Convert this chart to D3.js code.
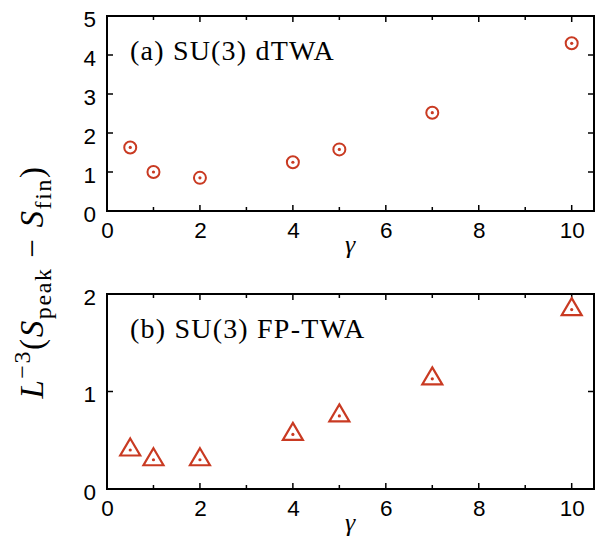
<!DOCTYPE html>
<meta charset="utf-8">
<style>
  body { margin: 0; background: #fff; }
  .tick text { font-family: "Liberation Sans", Arial, sans-serif; font-size: 22.5px; fill: #000; }
  .serif { font-family: "Liberation Serif", "DejaVu Serif", serif; }
</style>
<svg width="597" height="550"></svg>
<script src="https://d3js.org/d3.v7.min.js"></script>
<script>
  // gamma values, shared by both panels
  var gammas = [0.5, 1, 2, 4, 5, 7, 10]
  // (a) SU(3) dTWA
  var dtwa = [1.63, 1.0, 0.85, 1.25, 1.58, 2.52, 4.30]
  // (b) SU(3) FP-TWA
  var fptwa = [0.40, 0.30, 0.30, 0.56, 0.75, 1.13, 1.84]

  var xMajor = [0, 2, 4, 6, 8, 10]
  var xMinor = [1, 3, 5, 7, 9]

  var red = '#c93a22'
  var svg = d3.select('svg')

  var x = d3.scaleLinear().domain([0, 10.48]).range([107, 594])

  function panel(cfg) {
    var y = d3.scaleLinear().domain([0, cfg.ymax]).range([cfg.bottom, cfg.top])
    var g = svg.append('g')

    // frame
    g.append('rect')
      .attr('x', x.range()[0]).attr('y', cfg.top)
      .attr('width', x.range()[1] - x.range()[0])
      .attr('height', cfg.bottom - cfg.top)
      .attr('fill', 'none').attr('stroke', '#000').attr('stroke-width', 2)

    // inward ticks on all four sides
    var ticks = g.append('g').attr('stroke', '#000').attr('stroke-width', 1.5)
    xMajor.concat(xMinor).forEach(function (v) {
      var len = xMajor.indexOf(v) >= 0 ? 6 : 4
      ticks.append('line').attr('x1', x(v)).attr('x2', x(v))
        .attr('y1', cfg.bottom).attr('y2', cfg.bottom - len)
      ticks.append('line').attr('x1', x(v)).attr('x2', x(v))
        .attr('y1', cfg.top).attr('y2', cfg.top + len)
    })
    cfg.yTicks.forEach(function (v) {
      ticks.append('line').attr('y1', y(v)).attr('y2', y(v))
        .attr('x1', x.range()[0]).attr('x2', x.range()[0] + 6)
      ticks.append('line').attr('y1', y(v)).attr('y2', y(v))
        .attr('x1', x.range()[1]).attr('x2', x.range()[1] - 6)
    })

    // tick labels through axes (lines hidden, drawn above)
    var xa = g.append('g').attr('transform', 'translate(0,' + cfg.bottom + ')')
      .call(d3.axisBottom(x).tickValues(xMajor).tickSize(0).tickPadding(11).tickFormat(d3.format('d')))
    xa.select('.domain').remove()
    var ya = g.append('g').attr('transform', 'translate(' + x.range()[0] + ',3)')
      .call(d3.axisLeft(y).tickValues(cfg.yTicks).tickSize(0).tickPadding(11).tickFormat(d3.format('d')))
    ya.select('.domain').remove()

    // x label
    g.append('text').attr('class', 'serif')
      .attr('x', 350).attr('y', cfg.bottom + 42)
      .attr('text-anchor', 'middle').attr('font-size', 26).attr('font-style', 'italic')
      .text('γ')

    // panel title
    g.append('text').attr('class', 'serif')
      .attr('x', 130).attr('y', cfg.top + 44)
      .attr('font-size', 28).attr('letter-spacing', 1.2)
      .text(cfg.title)

    // markers
    var pts = g.append('g').selectAll('g')
      .data(gammas.map(function (d, i) { return [d, cfg.values[i]] }))
      .enter().append('g')
      .attr('transform', function (d) { return 'translate(' + x(d[0]) + ',' + y(d[1]) + ')' })
    if (cfg.marker === 'circle') {
      pts.append('circle').attr('r', 6).attr('fill', 'none')
        .attr('stroke', red).attr('stroke-width', 2)
    } else {
      pts.append('path').attr('d', 'M0,-11.5L10,5.5L-10,5.5Z').attr('fill', 'none')
        .attr('stroke', red).attr('stroke-width', 2.2)
    }
    pts.append('circle').attr('r', 1.6).attr('fill', red)
  }

  panel({ top: 16, bottom: 211, ymax: 5, yTicks: [0, 1, 2, 3, 4, 5],
    values: dtwa, marker: 'circle', title: '(a) SU(3) dTWA' })
  panel({ top: 294, bottom: 489, ymax: 2, yTicks: [0, 1, 2],
    values: fptwa, marker: 'triangle', title: '(b) SU(3) FP-TWA' })

  // shared y label
  var yl = svg.append('text').attr('class', 'serif')
    .attr('transform', 'translate(43,282) rotate(-90)')
    .attr('text-anchor', 'middle').attr('font-size', 33).attr('letter-spacing', 1.6)
  yl.append('tspan').attr('font-style', 'italic').text('L')
  yl.append('tspan').attr('dy', -13).attr('font-size', 24).text('−3')
  yl.append('tspan').attr('dy', 13).text('(')
  yl.append('tspan').attr('font-style', 'italic').text('S')
  yl.append('tspan').attr('dy', 8).attr('font-size', 24).text('peak')
  yl.append('tspan').attr('dy', -8).text('  −  ')
  yl.append('tspan').attr('font-style', 'italic').text('S')
  yl.append('tspan').attr('dy', 8).attr('font-size', 24).text('fin')
  yl.append('tspan').attr('dy', -8).text(')')
</script>
